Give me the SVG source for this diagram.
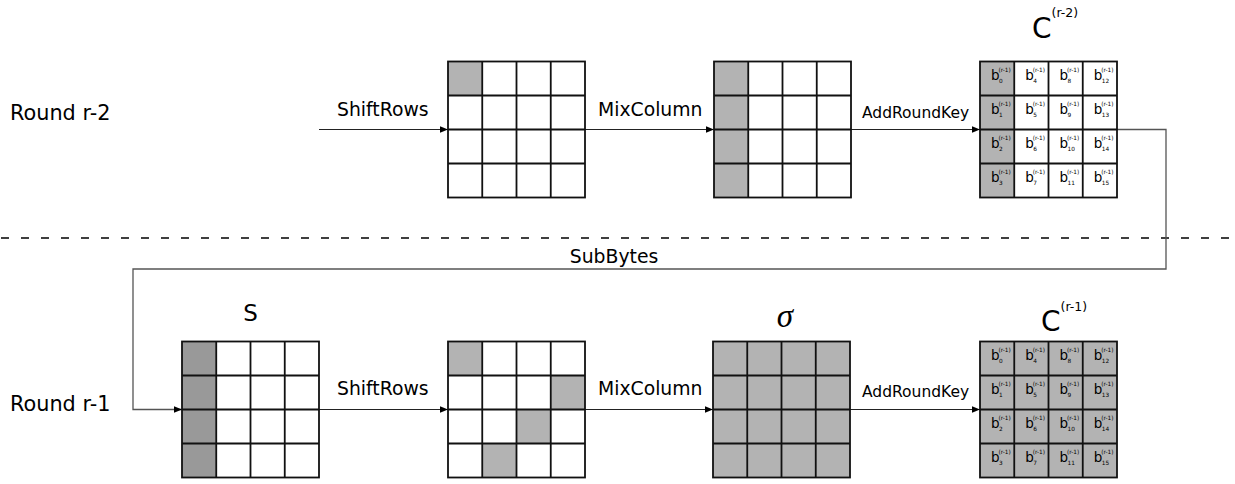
<svg xmlns="http://www.w3.org/2000/svg" xmlns:xlink="http://www.w3.org/1999/xlink" width="1235" height="484" viewBox="0 0 1235 484">
  <style>
    text { font-family: "DejaVu Sans", "Liberation Sans", sans-serif; fill: #000; }
    .round { font-size: 20.8px; }
    .op { font-size: 18.8px; }
    .ark { font-size: 15.5px; }
    .big { font-size: 28px; }
    .supc { font-size: 12.5px; }
    .sl { font-size: 23px; }
    .b { font-size: 13.5px; }
    .s6 { font-size: 5.8px; }
    .g1 { fill: #b3b3b3; }
    .g2 { fill: #999999; }
    .gridline { fill: none; stroke: #111; stroke-width: 1.8; }
    .wire { fill: none; stroke: #222; stroke-width: 1.2; }
    .loop { fill: none; stroke: #555; stroke-width: 1.3; }
    .sigma { font-family: "Liberation Serif", "DejaVu Serif", serif; font-style: italic; font-size: 33px; }
  </style>
  <defs>
    <marker id="arrow" viewBox="0 0 8 8" refX="8" refY="4" markerWidth="8" markerHeight="8" markerUnits="userSpaceOnUse" orient="auto">
      <path d="M0,0.8 L8,4 L0,7.2 Z" fill="#000"/>
    </marker>
    <!-- 4x4 state grid, 137 x 136 -->
    <g id="grid4" class="gridline">
      <rect x="0" y="0" width="137" height="136"/>
      <path d="M34.25,0 V136 M68.5,0 V136 M102.75,0 V136 M0,34 H137 M0,68 H137 M0,102 H137"/>
    </g>
    <!-- byte labels b_i^(r-1), column-major -->
    <g id="blabels">
      <text class="b" x="11" y="18.5">b<tspan class="s6" x="18.5" y="10.5">(r-1)</tspan><tspan class="s6" x="19" y="21">0</tspan></text>
      <text class="b" x="11" y="52.5">b<tspan class="s6" x="18.5" y="44.5">(r-1)</tspan><tspan class="s6" x="19" y="55">1</tspan></text>
      <text class="b" x="11" y="86.5">b<tspan class="s6" x="18.5" y="78.5">(r-1)</tspan><tspan class="s6" x="19" y="89">2</tspan></text>
      <text class="b" x="11" y="120.5">b<tspan class="s6" x="18.5" y="112.5">(r-1)</tspan><tspan class="s6" x="19" y="123">3</tspan></text>
      <text class="b" x="45.25" y="18.5">b<tspan class="s6" x="52.75" y="10.5">(r-1)</tspan><tspan class="s6" x="53.25" y="21">4</tspan></text>
      <text class="b" x="45.25" y="52.5">b<tspan class="s6" x="52.75" y="44.5">(r-1)</tspan><tspan class="s6" x="53.25" y="55">5</tspan></text>
      <text class="b" x="45.25" y="86.5">b<tspan class="s6" x="52.75" y="78.5">(r-1)</tspan><tspan class="s6" x="53.25" y="89">6</tspan></text>
      <text class="b" x="45.25" y="120.5">b<tspan class="s6" x="52.75" y="112.5">(r-1)</tspan><tspan class="s6" x="53.25" y="123">7</tspan></text>
      <text class="b" x="79.5" y="18.5">b<tspan class="s6" x="87" y="10.5">(r-1)</tspan><tspan class="s6" x="87.5" y="21">8</tspan></text>
      <text class="b" x="79.5" y="52.5">b<tspan class="s6" x="87" y="44.5">(r-1)</tspan><tspan class="s6" x="87.5" y="55">9</tspan></text>
      <text class="b" x="79.5" y="86.5">b<tspan class="s6" x="87" y="78.5">(r-1)</tspan><tspan class="s6" x="87.5" y="89">10</tspan></text>
      <text class="b" x="79.5" y="120.5">b<tspan class="s6" x="87" y="112.5">(r-1)</tspan><tspan class="s6" x="87.5" y="123">11</tspan></text>
      <text class="b" x="113.75" y="18.5">b<tspan class="s6" x="121.25" y="10.5">(r-1)</tspan><tspan class="s6" x="121.75" y="21">12</tspan></text>
      <text class="b" x="113.75" y="52.5">b<tspan class="s6" x="121.25" y="44.5">(r-1)</tspan><tspan class="s6" x="121.75" y="55">13</tspan></text>
      <text class="b" x="113.75" y="86.5">b<tspan class="s6" x="121.25" y="78.5">(r-1)</tspan><tspan class="s6" x="121.75" y="89">14</tspan></text>
      <text class="b" x="113.75" y="120.5">b<tspan class="s6" x="121.25" y="112.5">(r-1)</tspan><tspan class="s6" x="121.75" y="123">15</tspan></text>
    </g>
  </defs>

  <rect x="0" y="0" width="1235" height="484" fill="#fff"/>

  <!-- round labels and separator -->
  <g id="labels">
    <text class="round" x="10" y="120">Round r-2</text>
    <text class="round" x="10" y="411">Round r-1</text>
    <line x1="1" y1="238" x2="1235" y2="238" stroke="#000" stroke-width="1.3" stroke-dasharray="8 12"/>
  </g>

  <!-- connectors -->
  <g id="connectors">
    <path class="wire" d="M319,129.5 H448" marker-end="url(#arrow)"/>
    <path class="wire" d="M585,129.5 H714" marker-end="url(#arrow)"/>
    <path class="wire" d="M851,129.5 H980" marker-end="url(#arrow)"/>
    <path class="loop" d="M1117,129.5 H1166 V269 H133 V409.5 H182" marker-end="url(#arrow)"/>
    <path class="wire" d="M319,409.5 H448" marker-end="url(#arrow)"/>
    <path class="wire" d="M585,409.5 H713" marker-end="url(#arrow)"/>
    <path class="wire" d="M850,409.5 H980" marker-end="url(#arrow)"/>
    <text class="op" x="337" y="116">ShiftRows</text>
    <text class="op" x="598" y="116">MixColumn</text>
    <text class="ark" x="862" y="118">AddRoundKey</text>
    <text class="op" x="614" y="263" text-anchor="middle">SubBytes</text>
    <text class="op" x="337" y="395">ShiftRows</text>
    <text class="op" x="598" y="395">MixColumn</text>
    <text class="ark" x="862" y="397">AddRoundKey</text>
  </g>

  <!-- Round r-2 states -->
  <g id="state-shiftrows-r2" transform="translate(448,61.5)">
    <rect class="g1" x="0" y="0" width="34.25" height="34"/>
    <use xlink:href="#grid4"/>
  </g>
  <g id="state-mixcolumn-r2" transform="translate(714,61.5)">
    <rect class="g1" x="0" y="0" width="34.25" height="136"/>
    <use xlink:href="#grid4"/>
  </g>
  <g id="state-c-r2" transform="translate(980,61.5)">
    <rect class="g1" x="0" y="0" width="34.25" height="136"/>
    <use xlink:href="#grid4"/>
    <use xlink:href="#blabels"/>
    <text class="big" x="52" y="-24">C<tspan class="supc" dy="-21">(r-2)</tspan></text>
  </g>

  <!-- Round r-1 states -->
  <g id="state-s" transform="translate(182,341.5)">
    <rect class="g2" x="0" y="0" width="34.25" height="136"/>
    <use xlink:href="#grid4"/>
    <text class="sl" x="68.5" y="-21" text-anchor="middle">S</text>
  </g>
  <g id="state-shiftrows-r1" transform="translate(448,341.5)">
    <rect class="g1" x="0" y="0" width="34.25" height="34"/>
    <rect class="g1" x="102.75" y="34" width="34.25" height="34"/>
    <rect class="g1" x="68.5" y="68" width="34.25" height="34"/>
    <rect class="g1" x="34.25" y="102" width="34.25" height="34"/>
    <use xlink:href="#grid4"/>
  </g>
  <g id="state-sigma" transform="translate(713,341.5)">
    <rect class="g1" x="0" y="0" width="137" height="136"/>
    <use xlink:href="#grid4"/>
    <text class="sigma" x="72" y="-15" text-anchor="middle">σ</text>
  </g>
  <g id="state-c-r1" transform="translate(980,341.5)">
    <rect class="g1" x="0" y="0" width="137" height="136"/>
    <use xlink:href="#grid4"/>
    <use xlink:href="#blabels"/>
    <text class="big" x="61" y="-11">C<tspan class="supc" dy="-20">(r-1)</tspan></text>
  </g>
</svg>
